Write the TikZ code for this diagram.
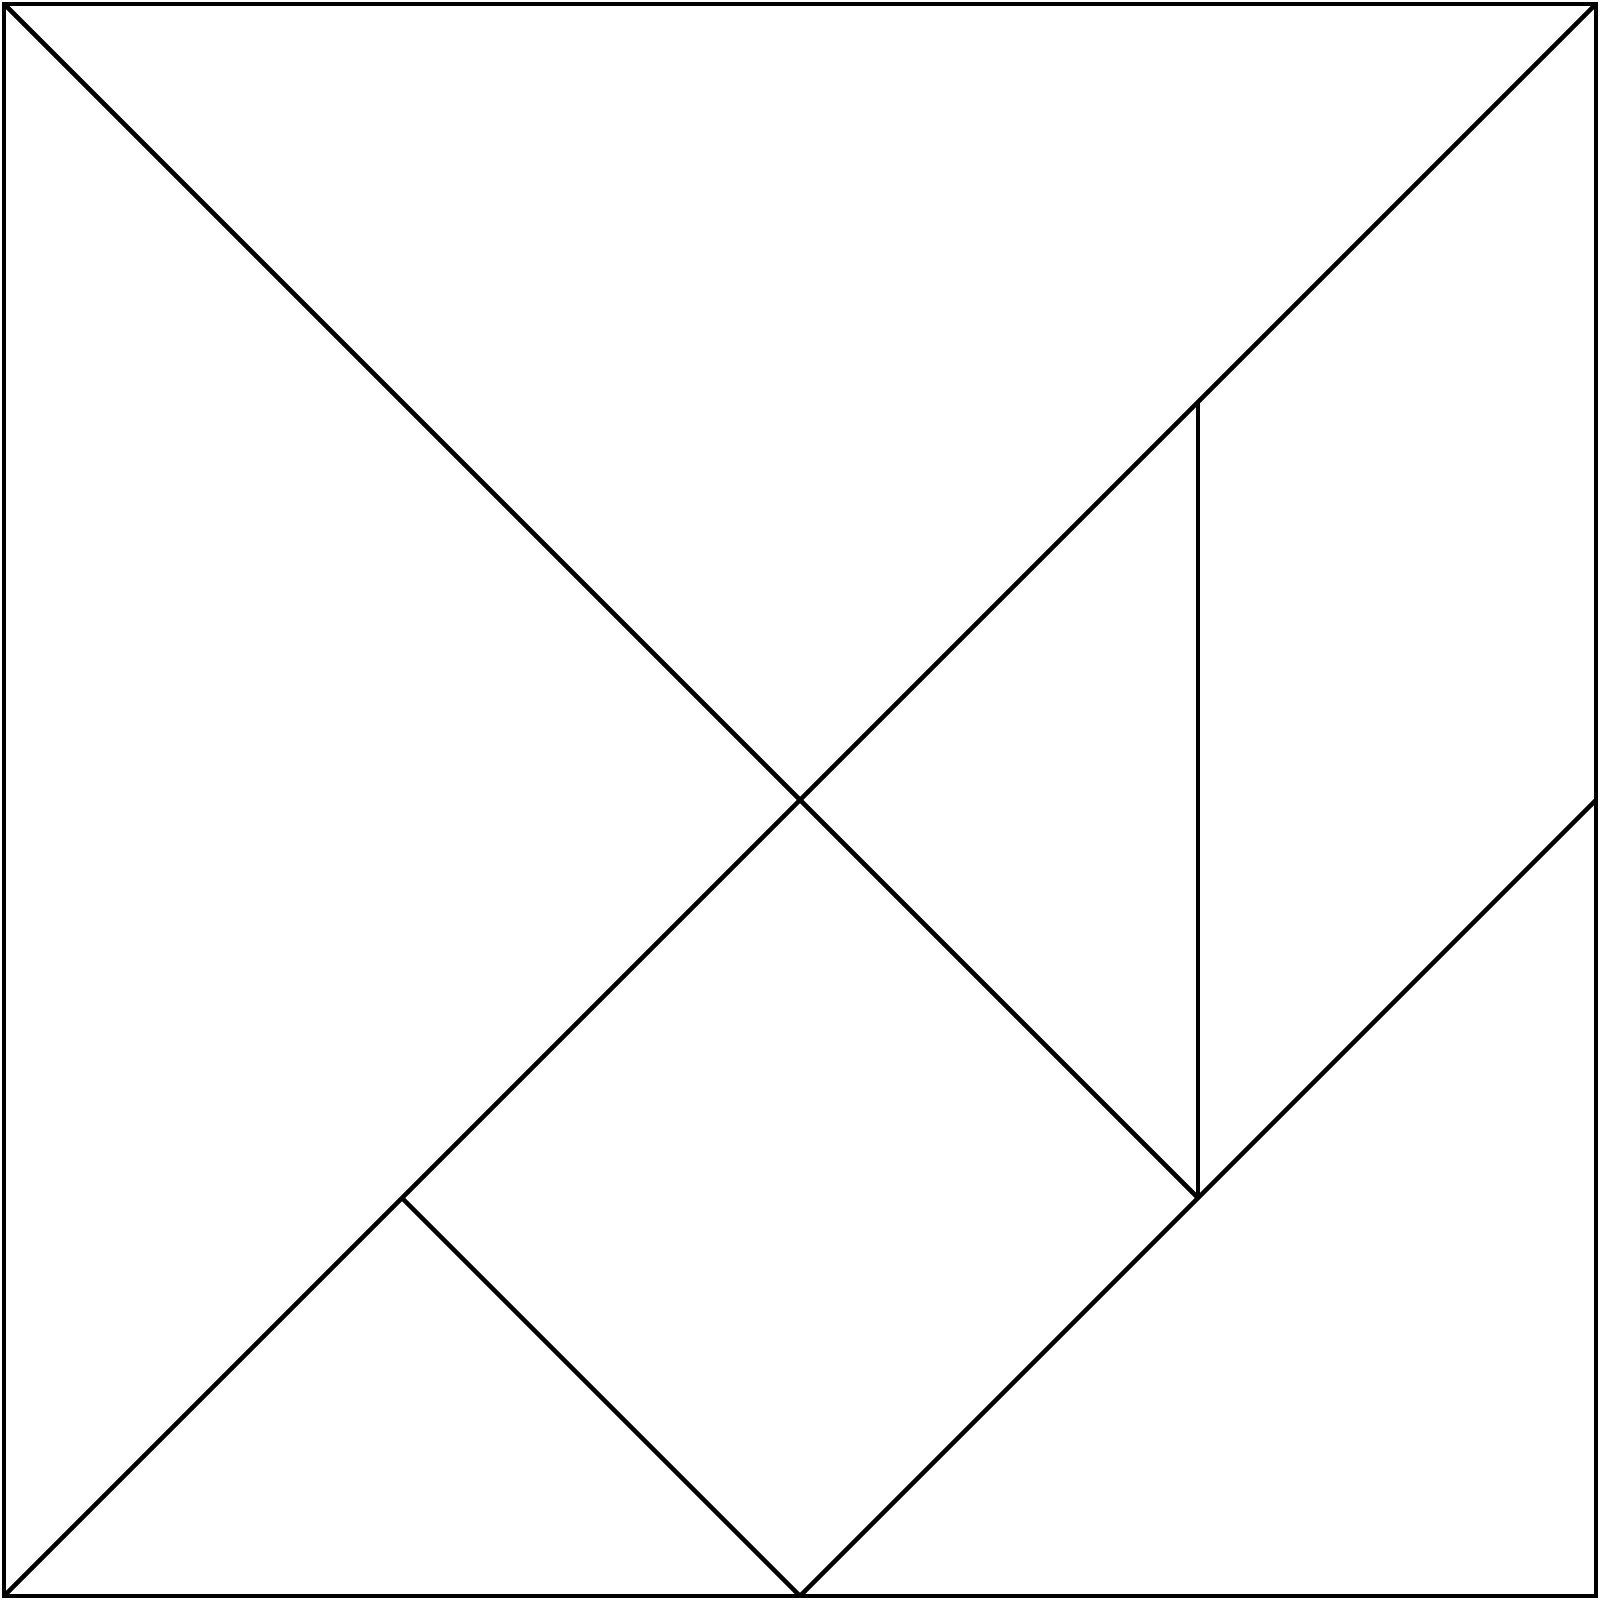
\documentclass[tikz,border=0pt]{standalone}
\begin{document}
\begin{tikzpicture}[edge/.style={line width=1.3pt, line join=miter, black}]
\useasboundingbox (0,0) rectangle (16,16);
\coordinate (BL) at (0.04,0.04);
\coordinate (BR) at (15.96,0.04);
\coordinate (TR) at (15.96,15.96);
\coordinate (TL) at (0.04,15.96);
\coordinate (C) at (8,8);
\coordinate (BM) at (8,0.04);
\coordinate (RM) at (15.96,8);
\coordinate (P1) at (11.98,11.98);
\coordinate (P2) at (11.98,4.02);
\coordinate (P3) at (4.02,4.02);
\draw[edge] (BL) -- (BR) -- (TR) -- (TL) -- cycle;
\draw[edge] (BL) -- (TR);
\draw[edge] (TL) -- (C) -- (P2);
\draw[edge] (P1) -- (P2);
\draw[edge] (RM) -- (P2) -- (BM);
\draw[edge] (P3) -- (BM);
\end{tikzpicture}
\end{document}
